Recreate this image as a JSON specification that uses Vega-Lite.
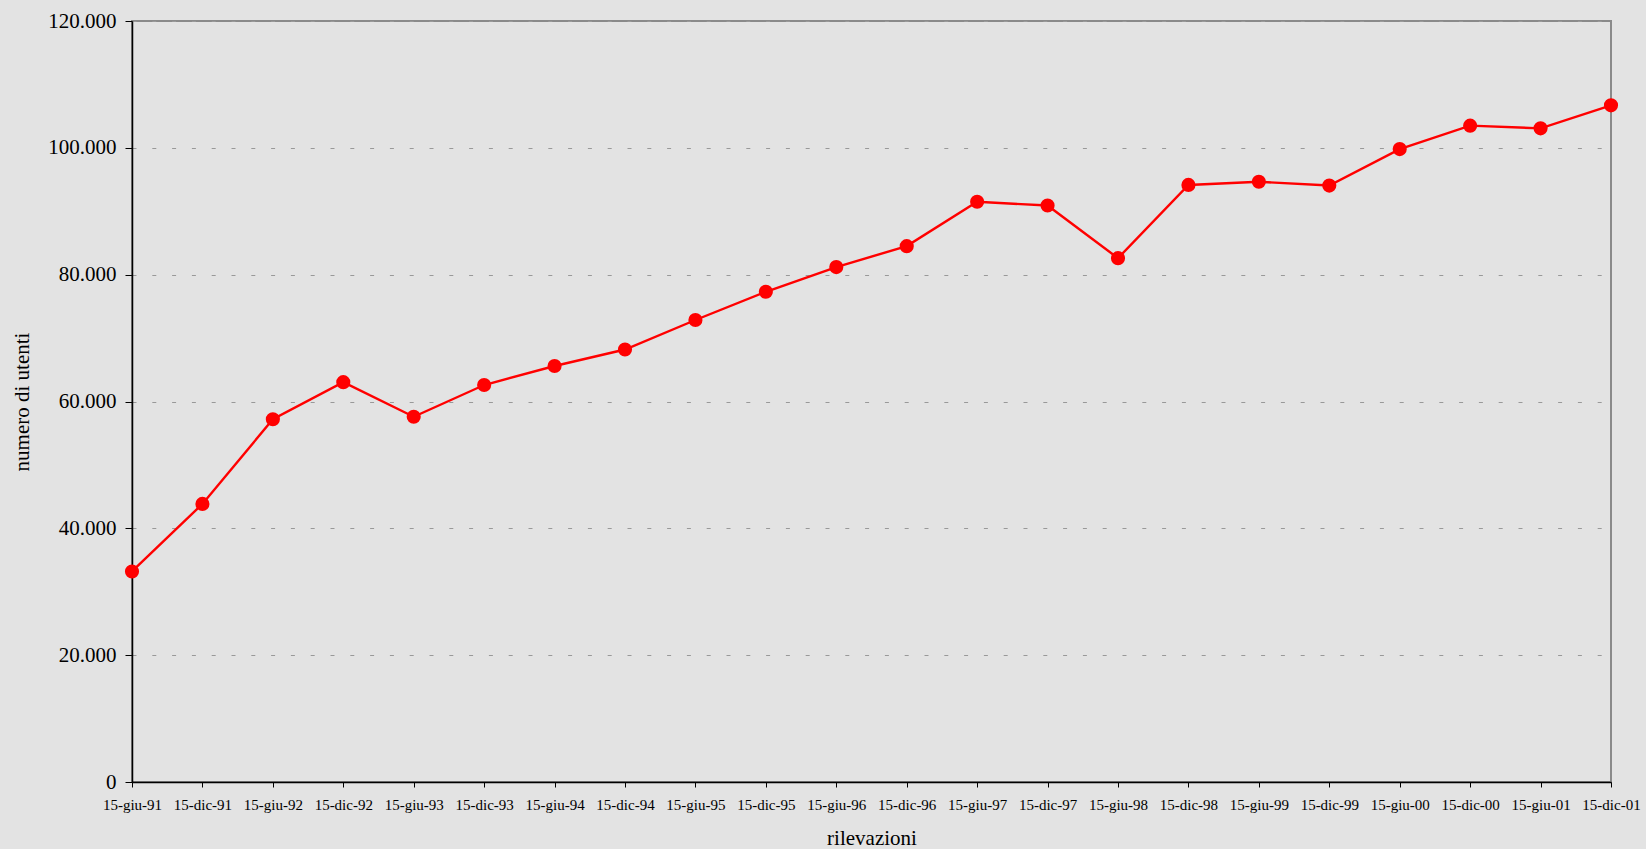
{
  "$schema": "https://vega.github.io/schema/vega-lite/v6.json",
  "autosize": {"type": "none"},
  "width": 1479,
  "height": 761,
  "padding": {"left": 132, "top": 21, "right": 35, "bottom": 67},
  "background": "#e3e3e3",
  "config": {
    "font": "Liberation Serif",
    "view": {"stroke": "#8a8a8a", "strokeWidth": 2},
    "axis": {"labelColor": "#000000", "titleColor": "#000000", "titleFontWeight": "normal", "labelFont": "Liberation Serif", "titleFont": "Liberation Serif"}
  },
  "data": {
    "values": [
      {"rilevazione": "15-giu-91", "utenti": 33200},
      {"rilevazione": "15-dic-91", "utenti": 43850},
      {"rilevazione": "15-giu-92", "utenti": 57200},
      {"rilevazione": "15-dic-92", "utenti": 63050},
      {"rilevazione": "15-giu-93", "utenti": 57600},
      {"rilevazione": "15-dic-93", "utenti": 62600},
      {"rilevazione": "15-giu-94", "utenti": 65600},
      {"rilevazione": "15-dic-94", "utenti": 68200},
      {"rilevazione": "15-giu-95", "utenti": 72850},
      {"rilevazione": "15-dic-95", "utenti": 77300},
      {"rilevazione": "15-giu-96", "utenti": 81200},
      {"rilevazione": "15-dic-96", "utenti": 84500},
      {"rilevazione": "15-giu-97", "utenti": 91500},
      {"rilevazione": "15-dic-97", "utenti": 90900},
      {"rilevazione": "15-giu-98", "utenti": 82600},
      {"rilevazione": "15-dic-98", "utenti": 94150},
      {"rilevazione": "15-giu-99", "utenti": 94650},
      {"rilevazione": "15-dic-99", "utenti": 94050},
      {"rilevazione": "15-giu-00", "utenti": 99800},
      {"rilevazione": "15-dic-00", "utenti": 103500},
      {"rilevazione": "15-giu-01", "utenti": 103070},
      {"rilevazione": "15-dic-01", "utenti": 106700}
    ]
  },
  "encoding": {
    "x": {
      "field": "rilevazione",
      "type": "ordinal",
      "sort": null,
      "scale": {"type": "point", "padding": 0},
      "axis": {
        "title": "rilevazioni",
        "titleFontSize": 21,
        "titlePadding": 15,
        "labelFontSize": 15,
        "labelAngle": 0,
        "labelPadding": 10,
        "tickSize": 5,
        "tickColor": "#000000",
        "domainColor": "#000000",
        "domainWidth": 1.5,
        "grid": false
      }
    },
    "y": {
      "field": "utenti",
      "type": "quantitative",
      "scale": {"domain": [0, 120000], "nice": false},
      "axis": {
        "title": "numero di utenti",
        "titleFontSize": 21,
        "titlePadding": 15,
        "labelFontSize": 21,
        "labelPadding": 9,
        "tickSize": 7,
        "tickColor": "#000000",
        "domainColor": "#000000",
        "domainWidth": 1.5,
        "values": [0, 20000, 40000, 60000, 80000, 100000, 120000],
        "labelExpr": "replace(format(datum.value, ','), ',', '.')",
        "grid": true,
        "gridColor": "#999999",
        "gridDash": [4, 15.8],
        "gridWidth": 1
      }
    }
  },
  "layer": [
    {"mark": {"type": "line", "color": "#ff0000", "strokeWidth": 2.4}},
    {"mark": {"type": "point", "filled": true, "color": "#ff0000", "size": 200, "opacity": 1}}
  ]
}
